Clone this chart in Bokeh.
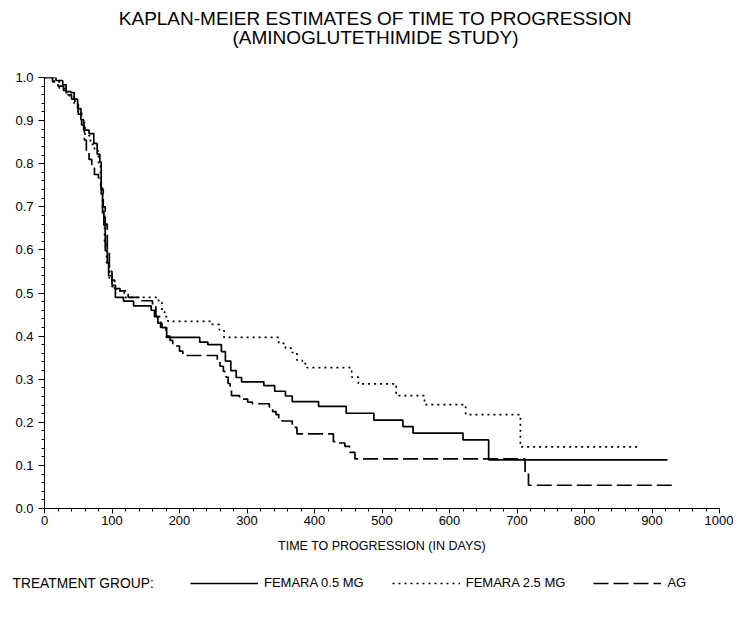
from bokeh.plotting import figure
from bokeh.layouts import column, row
from bokeh.models import Range1d, Legend, LegendItem, FixedTicker, PrintfTickFormatter, Label
from bokeh.embed import file_html
from bokeh.resources import INLINE

FONT = "Liberation Sans"
W = 733

title_lines = ["KAPLAN-MEIER ESTIMATES OF TIME TO PROGRESSION", "(AMINOGLUTETHIMIDE STUDY)"]
x_title = "TIME TO PROGRESSION (IN DAYS)"
legend_title = "TREATMENT GROUP:"
series_names = ["FEMARA 0.5 MG", "FEMARA 2.5 MG", "AG"]

x_ticks = [0, 100, 200, 300, 400, 500, 600, 700, 800, 900, 1000]
y_ticks = [0.0, 0.1, 0.2, 0.3, 0.4, 0.5, 0.6, 0.7, 0.8, 0.9, 1.0]

# FEMARA 0.5 MG (solid) - time of each step and survival after it; last point = end of follow-up
f05_t = [0, 17, 27, 32, 39, 44, 49, 54, 58, 66, 73, 78, 82, 84, 86, 88, 90, 93, 95, 100, 105,
         117, 132, 158, 163, 168, 174, 181, 230, 242, 262, 268, 276, 284, 292, 325, 341, 357,
         367, 406, 447, 488, 531, 546, 620, 658, 923]
f05_s = [1.0, 0.993, 0.983, 0.967, 0.965, 0.95, 0.928, 0.902, 0.878, 0.87, 0.847, 0.822, 0.804,
         0.73, 0.69, 0.657, 0.598, 0.57, 0.54, 0.518, 0.49, 0.481, 0.47, 0.46, 0.445, 0.43, 0.42,
         0.397, 0.386, 0.38, 0.364, 0.342, 0.32, 0.304, 0.294, 0.285, 0.272, 0.261, 0.248, 0.237,
         0.221, 0.205, 0.19, 0.175, 0.159, 0.113, 0.113]

# FEMARA 2.5 MG (dotted)
f25_t = [0, 14, 22, 30, 37, 44, 50, 55, 60, 68, 74, 80, 83, 86, 89, 92, 96, 100, 106, 118, 169,
         174, 178, 183, 247, 259, 266, 347, 357, 367, 374, 382, 389, 455, 465, 521, 563, 624,
         705, 882]
f25_s = [1.0, 0.99, 0.975, 0.965, 0.955, 0.94, 0.92, 0.895, 0.865, 0.845, 0.83, 0.80, 0.75,
         0.68, 0.62, 0.57, 0.535, 0.515, 0.505, 0.49, 0.478, 0.456, 0.445, 0.434, 0.427, 0.415,
         0.397, 0.383, 0.372, 0.362, 0.344, 0.336, 0.327, 0.305, 0.289, 0.262, 0.241, 0.218,
         0.143, 0.143]

# AG (dashed)
ag_t = [0, 12, 20, 28, 33, 40, 45, 50, 55, 59, 62, 66, 70, 74, 80, 84, 87, 90, 93, 96, 100, 104,
        112, 124, 140, 160, 165, 172, 180, 186, 190, 200, 205, 256, 260, 265, 269, 272, 275, 277,
        289, 301, 308, 333, 338, 343, 347, 352, 367, 374, 428, 436, 445, 452, 460, 712, 717, 934]
ag_s = [1.0, 0.99, 0.98, 0.97, 0.96, 0.95, 0.94, 0.915, 0.89, 0.855, 0.83, 0.81, 0.79, 0.775,
        0.76, 0.74, 0.70, 0.66, 0.60, 0.55, 0.53, 0.51, 0.505, 0.49, 0.482, 0.47, 0.445, 0.42,
        0.40, 0.39, 0.377, 0.365, 0.355, 0.345, 0.33, 0.318, 0.305, 0.29, 0.275, 0.262, 0.254,
        0.247, 0.243, 0.236, 0.225, 0.218, 0.21, 0.203, 0.188, 0.173, 0.155, 0.152, 0.144, 0.13,
        0.115, 0.082, 0.054, 0.054]

series_t = [f05_t, f25_t, ag_t]
series_s = [f05_s, f25_s, ag_s]
styles = [dict(line_dash="solid"), dict(line_dash="2 4"), dict(line_dash="15 5")]


def blank_fig(h):
    f = figure(width=W, height=h, output_backend="svg", toolbar_location=None,
               x_range=Range1d(0, W), y_range=Range1d(h, 0),
               x_axis_type=None, y_axis_type=None, min_border=0)
    f.grid.visible = False
    f.outline_line_color = None
    return f


# ---- title row ----
head = blank_fig(60)
for txt, yy in zip(title_lines, [18, 37]):
    head.add_layout(Label(x=375, y=yy, text=txt, text_align="center", text_baseline="middle",
                          text_font=FONT, text_font_size="19px", text_color="black"))

# ---- main plot ----
p = figure(width=W, height=508, output_backend="svg", toolbar_location=None,
           x_range=Range1d(0, 1000), y_range=Range1d(0, 1.0),
           min_border_left=44, min_border_right=14, min_border_top=17, min_border_bottom=60)
p.grid.visible = False
p.outline_line_color = None

for t, s, st in zip(series_t, series_s, styles):
    p.step(t, s, mode="after", line_color="black", line_width=1.7, **st)

for ax in (p.xaxis[0], p.yaxis[0]):
    ax.axis_line_color = "black"
    ax.major_tick_line_color = "black"
    ax.minor_tick_line_color = "black"
    ax.major_tick_in = 0
    ax.minor_tick_in = 0
    ax.minor_tick_out = 3
    ax.major_label_text_font = FONT
    ax.major_label_text_font_size = "13px"
    ax.major_label_text_color = "black"
    ax.axis_label_text_font = FONT
    ax.axis_label_text_font_style = "normal"
    ax.axis_label_text_color = "black"

p.xaxis.ticker = FixedTicker(ticks=x_ticks, minor_ticks=list(range(0, 1001, 20)))
p.yaxis.ticker = FixedTicker(ticks=y_ticks, minor_ticks=[i / 50 for i in range(51)])
p.yaxis.formatter = PrintfTickFormatter(format="%.1f")
p.xaxis.major_tick_out = 5
p.yaxis.major_tick_out = 6
p.xaxis.major_label_standoff = 2
p.yaxis.major_label_standoff = 5
p.xaxis.axis_label = x_title
p.xaxis.axis_label_text_font_size = "12.5px"
p.xaxis.axis_label_standoff = 11

# ---- legend row (hidden copies of the series serve as legend proxies) ----
leg = blank_fig(35)
leg_rs = [leg.step(t, s, line_color="black", line_width=1.7, visible=False, **st)
          for t, s, st in zip(series_t, series_s, styles)]
leg.add_layout(Label(x=12, y=15, text=legend_title, text_align="left", text_baseline="middle",
                     text_font=FONT, text_font_size="13.8px", text_color="black"))
legend = Legend(items=[LegendItem(label=n, renderers=[r]) for n, r in zip(series_names, leg_rs)],
                orientation="horizontal", location=(190, 13),
                glyph_width=68, glyph_height=14, label_height=14, label_standoff=6,
                spacing=28, padding=0, margin=0, border_line_color=None,
                background_fill_alpha=0, label_text_font=FONT, label_text_font_size="13px",
                label_text_color="black")
leg.add_layout(legend)

page = column(row(head), p, row(leg), spacing=0)
open("out.html", "w").write(file_html(page, INLINE))
